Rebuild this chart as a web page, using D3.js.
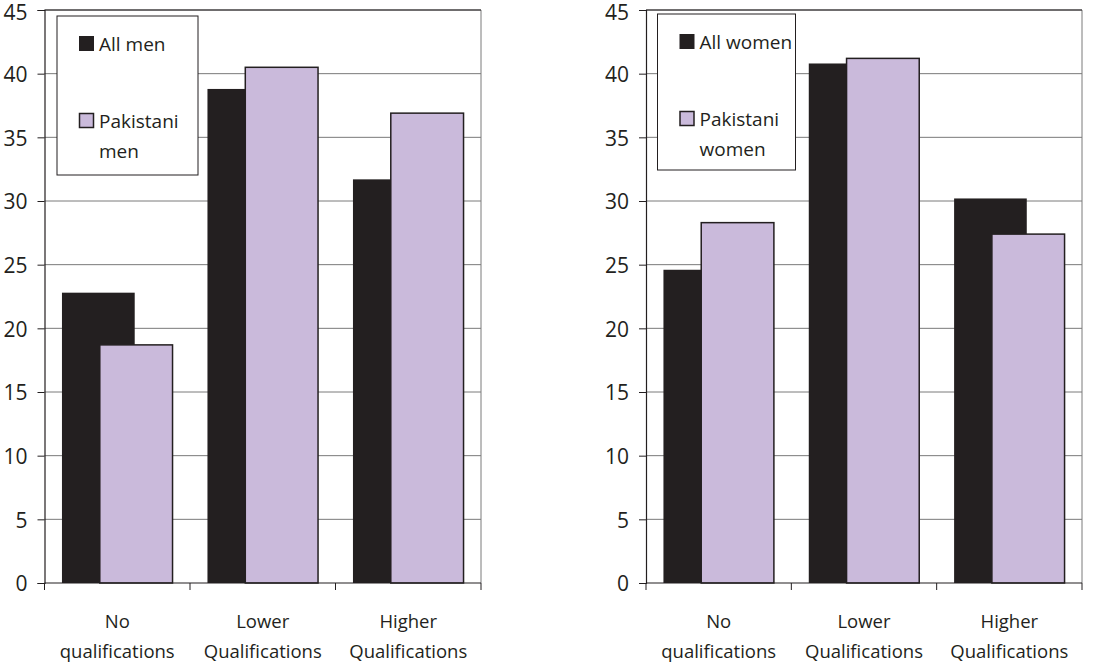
<!DOCTYPE html>
<html>
<head>
<meta charset="utf-8">
<script src="https://cdn.jsdelivr.net/npm/d3@7"></script>
<style>
  body { margin: 0; background: #fff; }
  svg text { font-family: "Open Sans", "Noto Sans", sans-serif; fill: #231f20; }
</style>
</head>
<body>
<div id="chart"></div>
<script>
// qualification categories (two lines each)
var categories = ["No qualifications", "Lower Qualifications", "Higher Qualifications"];
var categoryLines = [["No", "qualifications"], ["Lower", "Qualifications"], ["Higher", "Qualifications"]];

// values (%)
var allMen = [22.8, 38.8, 31.7];
var pakistaniMen = [18.7, 40.5, 36.9];
var allWomen = [24.6, 40.8, 30.2];
var pakistaniWomen = [28.3, 41.2, 27.4];

var yTicks = [0, 5, 10, 15, 20, 25, 30, 35, 40, 45];

var svg = d3.select("#chart").append("svg").attr("width", 1117).attr("height", 666);

var dark = "#231f20", lavender = "#cabadb", grid = "#7a7a7a";

function drawPanel(left, right, series, names, legendBox) {
  var x = d3.scaleBand().domain(categories).range([left, right]).padding(0);
  var y = d3.scaleLinear().domain([0, 45]).range([583, 10]);
  var g = svg.append("g");

  // gridlines
  g.selectAll(".grid").data(yTicks.slice(1)).enter().append("line")
    .attr("x1", left).attr("x2", right)
    .attr("y1", function (d) { return y(d); }).attr("y2", function (d) { return y(d); })
    .attr("stroke", grid).attr("stroke-width", 1);
  // right border
  g.append("line").attr("x1", right).attr("x2", right).attr("y1", y(45)).attr("y2", y(0))
    .attr("stroke", grid).attr("stroke-width", 1);

  // bars
  var bw = x.bandwidth();
  g.selectAll(".barA").data(series[0]).enter().append("rect")
    .attr("x", function (d, i) { return x(categories[i]) + bw * 0.12; })
    .attr("y", function (d) { return y(d); })
    .attr("width", bw * 0.5)
    .attr("height", function (d) { return y(0) - y(d); })
    .attr("fill", dark);
  g.selectAll(".barB").data(series[1]).enter().append("rect")
    .attr("x", function (d, i) { return x(categories[i]) + bw * 0.38; })
    .attr("y", function (d) { return y(d); })
    .attr("width", bw * 0.5)
    .attr("height", function (d) { return y(0) - y(d); })
    .attr("fill", lavender).attr("stroke", dark).attr("stroke-width", 1.5);

  // y axis
  var ya = g.append("g").attr("transform", "translate(" + left + ",0)")
    .call(d3.axisLeft(y).tickValues(yTicks).tickSize(7).tickPadding(10));
  ya.select(".domain").attr("stroke", dark).attr("stroke-width", 1.2);
  ya.selectAll(".tick line").attr("stroke", dark);
  ya.selectAll(".tick text").style("font-size", "21px").attr("fill", dark)
    .attr("dy", function (d) { return d === 45 ? "0.46em" : "0.38em"; });

  // x axis line + boundary ticks
  g.append("line").attr("x1", left).attr("x2", right).attr("y1", y(0)).attr("y2", y(0))
    .attr("stroke", dark).attr("stroke-width", 1.2);
  var bounds = categories.map(function (c) { return x(c); }).concat([right]);
  g.selectAll(".xt").data(bounds).enter().append("line")
    .attr("x1", function (d) { return d; }).attr("x2", function (d) { return d; })
    .attr("y1", y(0)).attr("y2", y(0) + 7)
    .attr("stroke", dark);

  // category labels
  var lab = g.selectAll(".cat").data(categoryLines).enter().append("text")
    .attr("text-anchor", "middle")
    .style("font-size", "18.5px");
  lab.append("tspan")
    .attr("x", function (d, i) { return x(categories[i]) + bw / 2; })
    .attr("y", 628)
    .text(function (d) { return d[0]; });
  lab.append("tspan")
    .attr("x", function (d, i) { return x(categories[i]) + bw / 2; })
    .attr("y", 658)
    .text(function (d) { return d[1]; });

  // legend
  var lg = g.append("g").attr("transform", "translate(" + legendBox[0] + "," + legendBox[1] + ")");
  lg.append("rect").attr("width", legendBox[2]).attr("height", legendBox[3])
    .attr("fill", "#fff").attr("stroke", dark).attr("stroke-width", 1);
  lg.append("rect").attr("x", 22).attr("y", 20).attr("width", 15).attr("height", 15).attr("fill", dark);
  lg.append("text").attr("x", 42).attr("y", 35).style("font-size", "19px").text(names[0]);
  lg.append("rect").attr("x", 22.5).attr("y", 97.5).attr("width", 14).attr("height", 14)
    .attr("fill", lavender).attr("stroke", dark).attr("stroke-width", 1.5);
  lg.append("text").attr("x", 42).attr("y", 112).style("font-size", "19px").text(names[1]);
  lg.append("text").attr("x", 42).attr("y", 142).style("font-size", "19px").text(names[2]);

  // top border
  g.append("line").attr("x1", left).attr("x2", right).attr("y1", y(45)).attr("y2", y(45))
    .attr("stroke", dark).attr("stroke-width", 1);
}

drawPanel(44.5, 481, [allMen, pakistaniMen], ["All men", "Pakistani", "men"], [57, 16, 141, 159]);
drawPanel(646, 1082, [allWomen, pakistaniWomen], ["All women", "Pakistani", "women"], [657.5, 14, 138, 156]);
</script>
</body>
</html>
